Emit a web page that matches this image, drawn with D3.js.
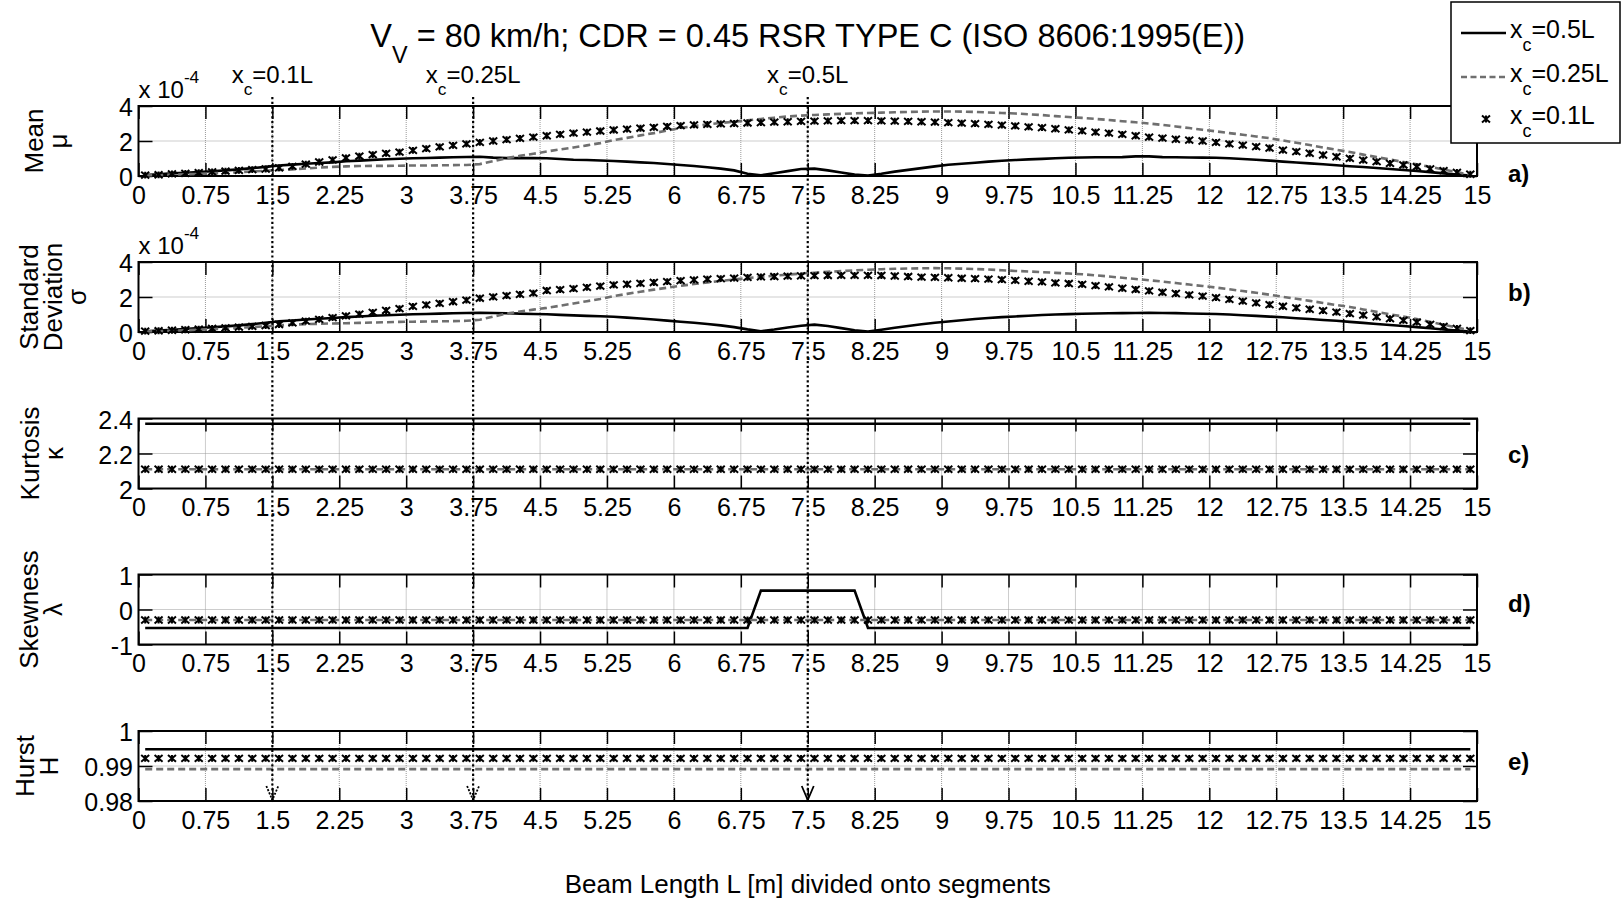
<!DOCTYPE html>
<html><head><meta charset="utf-8">
<script src="https://cdn.jsdelivr.net/npm/d3@7"></script>
<style>
body{margin:0;background:#fff;}
svg{display:block;font-family:'Liberation Sans',Arial,Helvetica,sans-serif;}
.tick text{font-size:25px;fill:#000;}
.tick line{stroke:#000;stroke-width:1.5;}
</style></head><body>
<svg id="chart" width="1623" height="901"></svg>
<script>
// ---------------- DATA ----------------
// centres of the 100 beam segments [m]
const segX = [
0.075,0.225,0.375,0.525,0.675,0.825,0.975,1.125,1.275,1.425,
1.575,1.725,1.875,2.025,2.175,2.325,2.475,2.625,2.775,2.925,
3.075,3.225,3.375,3.525,3.675,3.825,3.975,4.125,4.275,4.425,
4.575,4.725,4.875,5.025,5.175,5.325,5.475,5.625,5.775,5.925,
6.075,6.225,6.375,6.525,6.675,6.825,6.975,7.125,7.275,7.425,
7.575,7.725,7.875,8.025,8.175,8.325,8.475,8.625,8.775,8.925,
9.075,9.225,9.375,9.525,9.675,9.825,9.975,10.125,10.275,10.425,
10.575,10.725,10.875,11.025,11.175,11.325,11.475,11.625,11.775,11.925,
12.075,12.225,12.375,12.525,12.675,12.825,12.975,13.125,13.275,13.425,
13.575,13.725,13.875,14.025,14.175,14.325,14.475,14.625,14.775,14.925];

const xTickValues = [0,0.75,1.5,2.25,3,3.75,4.5,5.25,6,6.75,7.5,8.25,9,9.75,10.5,11.25,12,12.75,13.5,14.25,15];
const xTickLabels = ["0","0.75","1.5","2.25","3","3.75","4.5","5.25","6","6.75","7.5","8.25","9","9.75","10.5","11.25","12","12.75","13.5","14.25","15"];

// crack positions (x_c) marked with arrows
const crackPos = [1.5, 3.75, 7.5];
const crackNames = ["0.1L", "0.25L", "0.5L"];

// Mean (x 10^-4)
const meanXc05 = [
0.05,0.10,0.15,0.19,0.23,0.27,0.32,0.38,0.45,0.52,
0.60,0.65,0.70,0.74,0.78,0.84,0.88,0.92,0.96,0.99,
1.01,1.03,1.05,1.07,1.09,1.10,1.05,1.02,1.02,1.02,
1.01,0.97,0.93,0.91,0.89,0.86,0.82,0.78,0.74,0.69,
0.63,0.57,0.50,0.42,0.32,0.13,0.04,0.16,0.28,0.40,
0.42,0.32,0.20,0.08,0.03,0.13,0.25,0.35,0.45,0.55,
0.64,0.70,0.76,0.82,0.87,0.91,0.95,0.98,1.01,1.04,
1.06,1.07,1.07,1.08,1.12,1.12,1.08,1.07,1.06,1.05,
1.04,1.01,0.97,0.93,0.88,0.82,0.77,0.72,0.67,0.61,
0.56,0.51,0.46,0.40,0.34,0.29,0.22,0.15,0.09,0.03];
const meanXc025 = [
0.03,0.05,0.08,0.10,0.12,0.15,0.18,0.22,0.26,0.30,
0.34,0.38,0.43,0.48,0.52,0.55,0.57,0.58,0.58,0.59,
0.60,0.60,0.61,0.62,0.63,0.68,0.85,1.02,1.15,1.27,
1.40,1.52,1.63,1.75,1.88,2.05,2.18,2.32,2.45,2.60,
2.74,2.85,2.95,3.03,3.10,3.18,3.26,3.33,3.40,3.45,
3.49,3.52,3.55,3.58,3.60,3.62,3.64,3.66,3.68,3.69,
3.69,3.68,3.66,3.63,3.60,3.57,3.53,3.48,3.42,3.37,
3.32,3.26,3.20,3.13,3.07,3.00,2.92,2.83,2.74,2.64,
2.55,2.45,2.36,2.26,2.16,2.03,1.90,1.77,1.63,1.50,
1.37,1.22,1.08,0.94,0.80,0.67,0.52,0.37,0.22,0.06];
const meanXc01 = [
0.05,0.07,0.12,0.15,0.19,0.24,0.28,0.32,0.36,0.40,
0.46,0.55,0.68,0.80,0.92,1.03,1.13,1.22,1.29,1.36,
1.46,1.56,1.66,1.75,1.84,1.92,2.00,2.08,2.15,2.22,
2.30,2.38,2.45,2.51,2.57,2.63,2.68,2.73,2.78,2.83,
2.88,2.92,2.95,2.98,3.00,3.03,3.05,3.08,3.10,3.12,
3.14,3.15,3.16,3.16,3.16,3.15,3.14,3.12,3.10,3.08,
3.05,3.02,2.99,2.95,2.91,2.86,2.81,2.76,2.70,2.64,
2.58,2.51,2.45,2.38,2.30,2.22,2.16,2.10,2.05,2.00,
1.92,1.84,1.76,1.68,1.60,1.48,1.39,1.30,1.20,1.10,
1.01,0.91,0.82,0.72,0.63,0.53,0.41,0.31,0.21,0.10];

// Standard deviation (x 10^-4)
const stdXc05 = [
0.04,0.08,0.12,0.17,0.22,0.27,0.32,0.38,0.45,0.53,
0.61,0.66,0.71,0.76,0.80,0.85,0.89,0.93,0.96,0.99,
1.01,1.03,1.05,1.07,1.09,1.10,1.09,1.07,1.05,1.03,
1.01,0.98,0.95,0.92,0.90,0.87,0.82,0.77,0.71,0.65,
0.59,0.53,0.46,0.38,0.28,0.15,0.04,0.14,0.26,0.36,
0.42,0.34,0.22,0.10,0.02,0.13,0.24,0.34,0.44,0.53,
0.60,0.67,0.74,0.80,0.85,0.89,0.93,0.97,1.00,1.02,
1.04,1.06,1.07,1.08,1.09,1.10,1.09,1.08,1.06,1.04,
1.03,1.00,0.96,0.92,0.88,0.84,0.79,0.74,0.69,0.64,
0.58,0.52,0.46,0.40,0.34,0.28,0.21,0.14,0.08,0.03];
const stdXc025 = [
0.03,0.05,0.07,0.10,0.13,0.16,0.20,0.24,0.28,0.33,
0.38,0.42,0.45,0.47,0.49,0.50,0.52,0.54,0.56,0.58,
0.59,0.60,0.61,0.62,0.64,0.70,0.88,1.05,1.17,1.28,
1.38,1.50,1.63,1.76,1.89,2.05,2.18,2.30,2.42,2.53,
2.64,2.74,2.83,2.92,3.00,3.08,3.15,3.22,3.28,3.34,
3.39,3.44,3.48,3.52,3.56,3.59,3.61,3.63,3.64,3.65,
3.64,3.62,3.60,3.57,3.53,3.49,3.46,3.42,3.38,3.34,
3.30,3.24,3.17,3.10,3.03,2.96,2.88,2.80,2.71,2.63,
2.54,2.44,2.34,2.24,2.13,2.01,1.90,1.78,1.66,1.54,
1.43,1.29,1.15,1.01,0.88,0.74,0.58,0.42,0.26,0.09];
const stdXc01 = [
0.05,0.07,0.10,0.13,0.16,0.20,0.24,0.28,0.32,0.37,
0.43,0.52,0.62,0.72,0.82,0.92,1.02,1.12,1.23,1.34,
1.46,1.55,1.64,1.73,1.82,1.93,2.01,2.08,2.15,2.22,
2.37,2.42,2.48,2.55,2.62,2.69,2.73,2.78,2.83,2.88,
2.94,2.98,3.02,3.05,3.08,3.12,3.15,3.17,3.19,3.21,
3.22,3.23,3.24,3.24,3.24,3.23,3.20,3.17,3.14,3.12,
3.10,3.07,3.05,3.02,2.99,2.95,2.90,2.86,2.81,2.77,
2.72,2.65,2.58,2.50,2.43,2.35,2.27,2.20,2.12,2.05,
1.96,1.86,1.76,1.66,1.56,1.47,1.38,1.30,1.22,1.14,
1.05,0.96,0.86,0.76,0.66,0.56,0.44,0.32,0.20,0.08];

// Kurtosis
const kurtXc05 = [
2.37,2.37,2.37,2.37,2.37,2.37,2.37,2.37,2.37,2.37,
2.37,2.37,2.37,2.37,2.37,2.37,2.37,2.37,2.37,2.37,
2.37,2.37,2.37,2.37,2.37,2.37,2.37,2.37,2.37,2.37,
2.37,2.37,2.37,2.37,2.37,2.37,2.37,2.37,2.37,2.37,
2.37,2.37,2.37,2.37,2.37,2.37,2.37,2.37,2.37,2.37,
2.37,2.37,2.37,2.37,2.37,2.37,2.37,2.37,2.37,2.37,
2.37,2.37,2.37,2.37,2.37,2.37,2.37,2.37,2.37,2.37,
2.37,2.37,2.37,2.37,2.37,2.37,2.37,2.37,2.37,2.37,
2.37,2.37,2.37,2.37,2.37,2.37,2.37,2.37,2.37,2.37,
2.37,2.37,2.37,2.37,2.37,2.37,2.37,2.37,2.37,2.37];
const kurtXc025 = [
2.11,2.11,2.11,2.11,2.11,2.11,2.11,2.11,2.11,2.11,
2.11,2.11,2.11,2.11,2.11,2.11,2.11,2.11,2.11,2.11,
2.11,2.11,2.11,2.11,2.11,2.11,2.11,2.11,2.11,2.11,
2.11,2.11,2.11,2.11,2.11,2.11,2.11,2.11,2.11,2.11,
2.11,2.11,2.11,2.11,2.11,2.11,2.11,2.11,2.11,2.11,
2.11,2.11,2.11,2.11,2.11,2.11,2.11,2.11,2.11,2.11,
2.11,2.11,2.11,2.11,2.11,2.11,2.11,2.11,2.11,2.11,
2.11,2.11,2.11,2.11,2.11,2.11,2.11,2.11,2.11,2.11,
2.11,2.11,2.11,2.11,2.11,2.11,2.11,2.11,2.11,2.11,
2.11,2.11,2.11,2.11,2.11,2.11,2.11,2.11,2.11,2.11];
const kurtXc01 = [
2.11,2.11,2.11,2.11,2.11,2.11,2.11,2.11,2.11,2.11,
2.11,2.11,2.11,2.11,2.11,2.11,2.11,2.11,2.11,2.11,
2.11,2.11,2.11,2.11,2.11,2.11,2.11,2.11,2.11,2.11,
2.11,2.11,2.11,2.11,2.11,2.11,2.11,2.11,2.11,2.11,
2.11,2.11,2.11,2.11,2.11,2.11,2.11,2.11,2.11,2.11,
2.11,2.11,2.11,2.11,2.11,2.11,2.11,2.11,2.11,2.11,
2.11,2.11,2.11,2.11,2.11,2.11,2.11,2.11,2.11,2.11,
2.11,2.11,2.11,2.11,2.11,2.11,2.11,2.11,2.11,2.11,
2.11,2.11,2.11,2.11,2.11,2.11,2.11,2.11,2.11,2.11,
2.11,2.11,2.11,2.11,2.11,2.11,2.11,2.11,2.11,2.11];

// Skewness
const skewXc05 = [
-0.53,-0.53,-0.53,-0.53,-0.53,-0.53,-0.53,-0.53,-0.53,-0.53,
-0.53,-0.53,-0.53,-0.53,-0.53,-0.53,-0.53,-0.53,-0.53,-0.53,
-0.53,-0.53,-0.53,-0.53,-0.53,-0.53,-0.53,-0.53,-0.53,-0.53,
-0.53,-0.53,-0.53,-0.53,-0.53,-0.53,-0.53,-0.53,-0.53,-0.53,
-0.53,-0.53,-0.53,-0.53,-0.53,-0.53,0.54,0.54,0.54,0.54,
0.54,0.54,0.54,0.54,-0.53,-0.53,-0.53,-0.53,-0.53,-0.53,
-0.53,-0.53,-0.53,-0.53,-0.53,-0.53,-0.53,-0.53,-0.53,-0.53,
-0.53,-0.53,-0.53,-0.53,-0.53,-0.53,-0.53,-0.53,-0.53,-0.53,
-0.53,-0.53,-0.53,-0.53,-0.53,-0.53,-0.53,-0.53,-0.53,-0.53,
-0.53,-0.53,-0.53,-0.53,-0.53,-0.53,-0.53,-0.53,-0.53,-0.53];
const skewXc025 = [
-0.30,-0.30,-0.30,-0.30,-0.30,-0.30,-0.30,-0.30,-0.30,-0.30,
-0.30,-0.30,-0.30,-0.30,-0.30,-0.30,-0.30,-0.30,-0.30,-0.30,
-0.30,-0.30,-0.30,-0.30,-0.30,-0.30,-0.30,-0.30,-0.30,-0.30,
-0.30,-0.30,-0.30,-0.30,-0.30,-0.30,-0.30,-0.30,-0.30,-0.30,
-0.30,-0.30,-0.30,-0.30,-0.30,-0.30,-0.30,-0.30,-0.30,-0.30,
-0.30,-0.30,-0.30,-0.30,-0.30,-0.30,-0.30,-0.30,-0.30,-0.30,
-0.30,-0.30,-0.30,-0.30,-0.30,-0.30,-0.30,-0.30,-0.30,-0.30,
-0.30,-0.30,-0.30,-0.30,-0.30,-0.30,-0.30,-0.30,-0.30,-0.30,
-0.30,-0.30,-0.30,-0.30,-0.30,-0.30,-0.30,-0.30,-0.30,-0.30,
-0.30,-0.30,-0.30,-0.30,-0.30,-0.30,-0.30,-0.30,-0.30,-0.30];
const skewXc01 = [
-0.30,-0.30,-0.30,-0.30,-0.30,-0.30,-0.30,-0.30,-0.30,-0.30,
-0.30,-0.30,-0.30,-0.30,-0.30,-0.30,-0.30,-0.30,-0.30,-0.30,
-0.30,-0.30,-0.30,-0.30,-0.30,-0.30,-0.30,-0.30,-0.30,-0.30,
-0.30,-0.30,-0.30,-0.30,-0.30,-0.30,-0.30,-0.30,-0.30,-0.30,
-0.30,-0.30,-0.30,-0.30,-0.30,-0.30,-0.30,-0.30,-0.30,-0.30,
-0.30,-0.30,-0.30,-0.30,-0.30,-0.30,-0.30,-0.30,-0.30,-0.30,
-0.30,-0.30,-0.30,-0.30,-0.30,-0.30,-0.30,-0.30,-0.30,-0.30,
-0.30,-0.30,-0.30,-0.30,-0.30,-0.30,-0.30,-0.30,-0.30,-0.30,
-0.30,-0.30,-0.30,-0.30,-0.30,-0.30,-0.30,-0.30,-0.30,-0.30,
-0.30,-0.30,-0.30,-0.30,-0.30,-0.30,-0.30,-0.30,-0.30,-0.30];

// Hurst exponent
const hurstXc05 = [
0.9948,0.9948,0.9948,0.9948,0.9948,0.9948,0.9948,0.9948,0.9948,0.9948,
0.9948,0.9948,0.9948,0.9948,0.9948,0.9948,0.9948,0.9948,0.9948,0.9948,
0.9948,0.9948,0.9948,0.9948,0.9948,0.9948,0.9948,0.9948,0.9948,0.9948,
0.9948,0.9948,0.9948,0.9948,0.9948,0.9948,0.9948,0.9948,0.9948,0.9948,
0.9948,0.9948,0.9948,0.9948,0.9948,0.9948,0.9948,0.9948,0.9948,0.9948,
0.9948,0.9948,0.9948,0.9948,0.9948,0.9948,0.9948,0.9948,0.9948,0.9948,
0.9948,0.9948,0.9948,0.9948,0.9948,0.9948,0.9948,0.9948,0.9948,0.9948,
0.9948,0.9948,0.9948,0.9948,0.9948,0.9948,0.9948,0.9948,0.9948,0.9948,
0.9948,0.9948,0.9948,0.9948,0.9948,0.9948,0.9948,0.9948,0.9948,0.9948,
0.9948,0.9948,0.9948,0.9948,0.9948,0.9948,0.9948,0.9948,0.9948,0.9948];
const hurstXc025 = [
0.9891,0.9891,0.9891,0.9891,0.9891,0.9891,0.9891,0.9891,0.9891,0.9891,
0.9891,0.9891,0.9891,0.9891,0.9891,0.9891,0.9891,0.9891,0.9891,0.9891,
0.9891,0.9891,0.9891,0.9891,0.9891,0.9891,0.9891,0.9891,0.9891,0.9891,
0.9891,0.9891,0.9891,0.9891,0.9891,0.9891,0.9891,0.9891,0.9891,0.9891,
0.9891,0.9891,0.9891,0.9891,0.9891,0.9891,0.9891,0.9891,0.9891,0.9891,
0.9891,0.9891,0.9891,0.9891,0.9891,0.9891,0.9891,0.9891,0.9891,0.9891,
0.9891,0.9891,0.9891,0.9891,0.9891,0.9891,0.9891,0.9891,0.9891,0.9891,
0.9891,0.9891,0.9891,0.9891,0.9891,0.9891,0.9891,0.9891,0.9891,0.9891,
0.9891,0.9891,0.9891,0.9891,0.9891,0.9891,0.9891,0.9891,0.9891,0.9891,
0.9891,0.9891,0.9891,0.9891,0.9891,0.9891,0.9891,0.9891,0.9891,0.9891];
const hurstXc01 = [
0.9922,0.9922,0.9922,0.9922,0.9922,0.9922,0.9922,0.9922,0.9922,0.9922,
0.9922,0.9922,0.9922,0.9922,0.9922,0.9922,0.9922,0.9922,0.9922,0.9922,
0.9922,0.9922,0.9922,0.9922,0.9922,0.9922,0.9922,0.9922,0.9922,0.9922,
0.9922,0.9922,0.9922,0.9922,0.9922,0.9922,0.9922,0.9922,0.9922,0.9922,
0.9922,0.9922,0.9922,0.9922,0.9922,0.9922,0.9922,0.9922,0.9922,0.9922,
0.9922,0.9922,0.9922,0.9922,0.9922,0.9922,0.9922,0.9922,0.9922,0.9922,
0.9922,0.9922,0.9922,0.9922,0.9922,0.9922,0.9922,0.9922,0.9922,0.9922,
0.9922,0.9922,0.9922,0.9922,0.9922,0.9922,0.9922,0.9922,0.9922,0.9922,
0.9922,0.9922,0.9922,0.9922,0.9922,0.9922,0.9922,0.9922,0.9922,0.9922,
0.9922,0.9922,0.9922,0.9922,0.9922,0.9922,0.9922,0.9922,0.9922,0.9922];

// y ticks per panel
const yTicksMean = [0,2,4],        yTickLabelsMean = ["0","2","4"];
const yTicksStd = [0,2,4],         yTickLabelsStd = ["0","2","4"];
const yTicksKurt = [2,2.2,2.4],    yTickLabelsKurt = ["2","2.2","2.4"];
const yTicksSkew = [-1,0,1],       yTickLabelsSkew = ["-1","0","1"];
const yTicksHurst = [0.98,0.99,1], yTickLabelsHurst = ["0.98","0.99","1"];

const yLabelLines = [["Mean","μ"],["Standard","Deviation","σ"],["Kurtosis","κ"],["Skewness","λ"],["Hurst","H"]];
const panelTags = ["a)","b)","c)","d)","e)"];
const legendNames = ["0.5L","0.25L","0.1L"];

// ---------------- LAYOUT ----------------
const svg = d3.select("#chart");
const xLeft = 138.5, xRight = 1477;
const panelTops = [106, 262, 418.5, 574.5, 731];
const panelH = 70;
const firstBaseline = [43, 38, 39, 38, 34];
const lineGap = 24;
const tagBaseline = [182, 301, 463, 612, 770];
const DASH_COLOR = "#6f6f6f";

const panels = [
  {dom:[0,4], ticks:yTicksMean, labels:yTickLabelsMean, s05:meanXc05, s025:meanXc025, s01:meanXc01, exp:true},
  {dom:[0,4], ticks:yTicksStd, labels:yTickLabelsStd, s05:stdXc05, s025:stdXc025, s01:stdXc01, exp:true},
  {dom:[2,2.4], ticks:yTicksKurt, labels:yTickLabelsKurt, s05:kurtXc05, s025:kurtXc025, s01:kurtXc01, exp:false},
  {dom:[-1,1], ticks:yTicksSkew, labels:yTickLabelsSkew, s05:skewXc05, s025:skewXc025, s01:skewXc01, exp:false},
  {dom:[0.98,1], ticks:yTicksHurst, labels:yTickLabelsHurst, s05:hurstXc05, s025:hurstXc025, s01:hurstXc01, exp:false}
];

const x = d3.scaleLinear().domain([0,15]).range([xLeft, xRight]);

function starPath(s){ // MATLAB-like '*' marker
  const h = s*0.85;
  return `M${-s},${-h}L${s},${h}M${-s},${h}L${s},${-h}M0,${-h}L0,${h}`;
}

function subText(parent, px, py, parts, size, anchor){
  const t = parent.append("text").attr("x",px).attr("y",py)
    .attr("font-size",size).attr("text-anchor",anchor||"start").attr("fill","#000");
  let shift = 0;
  parts.forEach(p=>{
    const ts = t.append("tspan").text(p.t);
    let target = 0;
    if (p.sub){ ts.attr("font-size", size*0.72); target = size*0.5; }
    if (p.sup){ ts.attr("font-size", size*0.72); target = -size*0.62; }
    ts.attr("dy", target - shift);
    shift = target;
  });
  return t;
}

panels.forEach((p,i)=>{
  const top = panelTops[i], bottom = top + panelH;
  const y = d3.scaleLinear().domain(p.dom).range([bottom, top]);
  const g = svg.append("g");

  // grid
  g.selectAll("line.vg").data(xTickValues).join("line").attr("class","vg")
    .attr("x1",d=>x(d)).attr("x2",d=>x(d)).attr("y1",top).attr("y2",bottom)
    .attr("stroke","#9a9a9a").attr("stroke-width",1).attr("stroke-dasharray","1,1");
  g.selectAll("line.hg").data(p.ticks).join("line").attr("class","hg")
    .attr("x1",xLeft).attr("x2",xRight).attr("y1",d=>y(d)).attr("y2",d=>y(d))
    .attr("stroke","#9a9a9a").attr("stroke-width",1).attr("stroke-dasharray","1,1");

  // axes
  const ax = g.append("g").attr("transform",`translate(0,${bottom})`)
    .call(d3.axisBottom(x).tickValues(xTickValues).tickFormat((d,k)=>xTickLabels[k])
      .tickSizeInner(-13).tickSizeOuter(0).tickPadding(10));
  const axT = g.append("g").attr("transform",`translate(0,${top})`)
    .call(d3.axisTop(x).tickValues(xTickValues).tickFormat(()=>"")
      .tickSizeInner(-13).tickSizeOuter(0));
  const ayL = g.append("g").attr("transform",`translate(${xLeft},0)`)
    .call(d3.axisLeft(y).tickValues(p.ticks).tickFormat((d,k)=>p.labels[k])
      .tickSizeInner(-14).tickSizeOuter(0).tickPadding(5.5));
  const ayR = g.append("g").attr("transform",`translate(${xRight},0)`)
    .call(d3.axisRight(y).tickValues(p.ticks).tickFormat(()=>"")
      .tickSizeInner(-14).tickSizeOuter(0));
  [ax,axT,ayL,ayR].forEach(a=>{
    a.attr("font-size",null).attr("font-family",null);
    a.select(".domain").remove();
  });
  ayL.selectAll(".tick text").attr("dy","0.38em");

  // box
  g.append("rect").attr("x",xLeft).attr("y",top).attr("width",xRight-xLeft).attr("height",panelH)
    .attr("fill","none").attr("stroke","#000").attr("stroke-width",2);

  // data
  const line = vals => d3.line().x((d,k)=>x(segX[k])).y(d=>y(d))(vals);
  g.append("path").attr("d",line(p.s05)).attr("fill","none").attr("stroke","#000").attr("stroke-width",2.6);
  g.append("path").attr("d",line(p.s025)).attr("fill","none").attr("stroke",DASH_COLOR)
    .attr("stroke-width",2.6).attr("stroke-dasharray","7,4");
  g.selectAll("path.mk").data(p.s01).join("path").attr("class","mk")
    .attr("transform",(d,k)=>`translate(${x(segX[k])},${y(d)})`)
    .attr("d",starPath(4)).attr("fill","none").attr("stroke","#000").attr("stroke-width",2);

  // exponent label
  if (p.exp){
    subText(svg, xLeft, top-8, [{t:"x 10"},{t:"-4",sup:true}], 24, "start");
  }

  // y label (rotated, multi-line)
  const lines = yLabelLines[i];
  const cy = top + panelH/2;
  lines.forEach((s,k)=>{
    const bx = firstBaseline[i] + k*lineGap;
    svg.append("text").attr("transform",`translate(${bx},${cy}) rotate(-90)`)
      .attr("text-anchor","middle").attr("font-size",26).attr("fill","#000").text(s);
  });

  // panel tag
  svg.append("text").attr("x",1508).attr("y",tagBaseline[i]).attr("font-size",24)
    .attr("font-weight","bold").attr("fill","#000").text(panelTags[i]);
});

// title
subText(svg, (xLeft+xRight)/2, 47,
  [{t:"V"},{t:"V",sub:true},{t:" = 80 km/h; CDR = 0.45 RSR TYPE C (ISO 8606:1995(E))"}], 32.5, "middle");

// x label
svg.append("text").attr("x",(xLeft+xRight)/2).attr("y",893).attr("text-anchor","middle")
  .attr("font-size",26).attr("fill","#000").text("Beam Length L [m] divided onto segments");

// crack position markers: dotted lines with arrows
const yTopLine = 97, yBot = panelTops[4] + panelH - 1;
crackPos.forEach((c,k)=>{
  const cx = x(c);
  svg.append("line").attr("x1",cx).attr("x2",cx).attr("y1",yTopLine).attr("y2",yBot)
    .attr("stroke","#000").attr("stroke-width",2.2).attr("stroke-dasharray","2.2,2.6");
  svg.append("path").attr("d",`M${cx-6},${yBot-14}L${cx},${yBot}L${cx+6},${yBot-14}`)
    .attr("fill","none").attr("stroke","#000").attr("stroke-width",1.8)
    .attr("stroke-dasharray", k===2 ? null : "2,1.5");
  subText(svg, cx, 83, [{t:"x"},{t:"c",sub:true},{t:"="+crackNames[k]}], 24, "middle");
});

// legend
const lg = svg.append("g");
lg.append("rect").attr("x",1451).attr("y",2).attr("width",169).attr("height",141)
  .attr("fill","#fff").attr("stroke","#000").attr("stroke-width",1.5);
const rowY = [33, 77, 119];
lg.append("line").attr("x1",1461).attr("x2",1506).attr("y1",rowY[0]).attr("y2",rowY[0])
  .attr("stroke","#000").attr("stroke-width",2.6);
lg.append("line").attr("x1",1461).attr("x2",1506).attr("y1",rowY[1]).attr("y2",rowY[1])
  .attr("stroke",DASH_COLOR).attr("stroke-width",2.6).attr("stroke-dasharray","6,3.5");
lg.append("path").attr("transform",`translate(1486,${rowY[2]})`).attr("d",starPath(4))
  .attr("fill","none").attr("stroke","#000").attr("stroke-width",2);
legendNames.forEach((n,k)=>{
  subText(lg, 1510, rowY[k]+5, [{t:"x"},{t:"c",sub:true},{t:"="+n}], 25, "start");
});
</script>
</body></html>
